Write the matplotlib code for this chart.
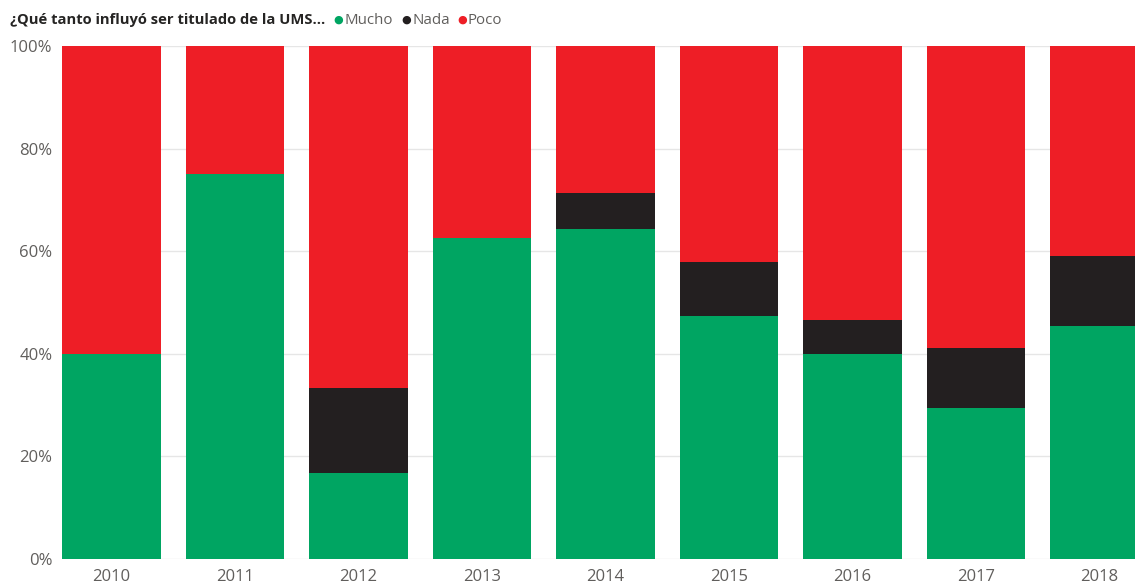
import matplotlib.pyplot as plt
import numpy as np

plt.rcParams['font.family'] = ['Open Sans', 'DejaVu Sans']

years = ['2010', '2011', '2012', '2013', '2014', '2015', '2016', '2017', '2018']
# share of answers per year (%)
mucho = [40.0, 75.0, 16.67, 62.5, 64.29, 47.37, 40.0, 29.41, 45.45]
nada = [0.0, 0.0, 16.67, 0.0, 7.14, 10.53, 6.67, 11.76, 13.64]
poco = [60.0, 25.0, 66.67, 37.5, 28.57, 42.11, 53.33, 58.82, 40.91]

c_mucho = '#00A562'
c_nada = '#231F20'
c_poco = '#EE1E26'
txt = '#605E5C'

W, H = 1135, 583
fig = plt.figure(figsize=(W / 100, H / 100), dpi=100)
ax = fig.add_axes([62 / W, (H - 559) / H, (W - 62) / W, (559 - 46) / H])

x = np.arange(len(years))
mucho = np.array(mucho)
nada = np.array(nada)
poco = np.array(poco)
ax.bar(x, mucho, width=0.8, color=c_mucho, zorder=2)
ax.bar(x, nada, width=0.8, bottom=mucho, color=c_nada, zorder=2)
ax.bar(x, poco, width=0.8, bottom=mucho + nada, color=c_poco, zorder=2)

ax.set_xlim(-0.4, (W - 111.5) / 123.5)
ax.set_ylim(0, 100)
ax.set_yticks(np.arange(0, 101, 20))
ax.set_yticklabels(['%d%%' % v for v in range(0, 101, 20)])
ax.set_xticks(x)
ax.set_xticklabels(years)
ax.tick_params(length=0, labelsize=12, colors=txt)
ax.tick_params(axis='y', pad=7)
ax.tick_params(axis='x', pad=7)
ax.grid(axis='y', color='#E6E6E6', linewidth=1, zorder=0)
for s in ax.spines.values():
    s.set_visible(False)

# legend line
fig.text(10 / W, 1 - 20 / H, '¿Qué tanto influyó ser titulado de la UMS...',
         fontsize=10.6, fontweight='bold', color='#252423', va='center')
for xp, lab, col in [(338, 'Mucho', c_mucho), (406, 'Nada', c_nada), (462, 'Poco', c_poco)]:
    fig.text(xp / W, 1 - 20 / H, '●', fontsize=8, color=col, va='center',
             ha='center', family='DejaVu Sans')
    fig.text((xp + 6) / W, 1 - 20 / H, lab, fontsize=10.8, color=txt, va='center')

plt.savefig('out.png', dpi=100)
